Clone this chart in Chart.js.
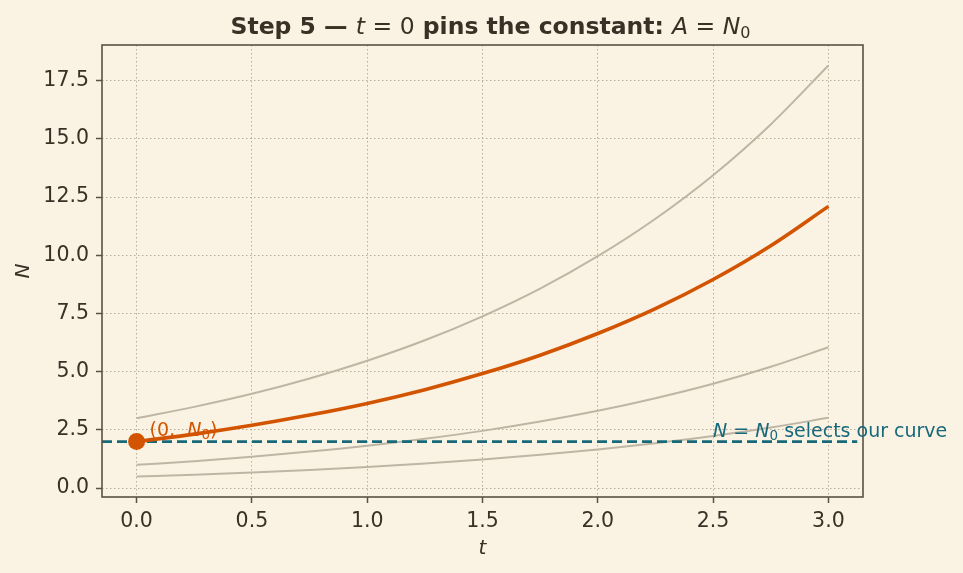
<!DOCTYPE html>
<html>
<head>
<meta charset="utf-8">
<script src="https://cdn.jsdelivr.net/npm/chart.js@4.4.1/dist/chart.umd.min.js"></script>
<style>
  html, body { margin: 0; background: #faf3e4; }
</style>
</head>
<body>
<canvas id="chart" width="963" height="573"></canvas>
<script>
// values
const tValues = [0, 0.25, 0.5, 0.75, 1, 1.25, 1.5, 1.75, 2, 2.25, 2.5, 2.75, 3];
const ourCurve = [2.00, 2.32, 2.70, 3.14, 3.64, 4.23, 4.92, 5.71, 6.64, 7.71, 8.96, 10.41, 12.10];
const otherHigh = [3.00, 3.49, 4.05, 4.71, 5.47, 6.35, 7.38, 8.57, 9.96, 11.57, 13.44, 15.62, 18.15];
const otherMid = [1.00, 1.16, 1.35, 1.57, 1.82, 2.12, 2.46, 2.86, 3.32, 3.86, 4.48, 5.21, 6.05];
const otherLow = [0.50, 0.58, 0.67, 0.78, 0.91, 1.06, 1.23, 1.43, 1.66, 1.93, 2.24, 2.60, 3.02];
const initialPoint = { t: 0, n: 2 };
const n0LineT = [-0.15, 3.125];
const n0Value = 2;
const xTicks = [0, 0.5, 1, 1.5, 2, 2.5, 3];
const yTicks = [0, 2.5, 5, 7.5, 10, 12.5, 15, 17.5];

const FONT = "'DejaVu Sans', sans-serif";
const INK = '#3b3026';
const FRAME = '#5b5045';
const ORANGE = '#d35400';
const TEAL = '#17697a';
const GREY = '#bfb5a5';

const toPoints = (ys) => tValues.map((t, i) => ({ x: t, y: ys[i] }));

// draw text made of runs with different fonts (for the bits of maths)
function drawRich(ctx, parts, x, y, align, color) {
  ctx.save();
  ctx.fillStyle = color;
  ctx.textBaseline = 'alphabetic';
  ctx.textAlign = 'left';
  let total = 0;
  parts.forEach(p => { ctx.font = p.font; total += ctx.measureText(p.text).width; });
  let cx = align === 'center' ? x - total / 2 : x;
  parts.forEach(p => {
    ctx.font = p.font;
    ctx.fillText(p.text, cx, y + (p.dy || 0));
    cx += ctx.measureText(p.text).width;
  });
  ctx.restore();
}

const decorations = {
  id: 'decorations',
  beforeDraw(chart) {
    const { ctx, width, height } = chart;
    ctx.save();
    ctx.fillStyle = '#faf3e4';
    ctx.fillRect(0, 0, width, height);
    ctx.restore();
  },
  afterDraw(chart) {
    const { ctx, chartArea: a, scales: { x, y } } = chart;
    ctx.save();
    ctx.strokeStyle = FRAME;
    ctx.lineWidth = 1.6;
    ctx.strokeRect(a.left, a.top, a.right - a.left, a.bottom - a.top);
    ctx.restore();

    const bold = `bold 23.5px ${FONT}`;
    const reg = `23.5px ${FONT}`;
    const ital = `italic 23.5px ${FONT}`;
    const sub = `16px ${FONT}`;
    drawRich(ctx, [
      { text: 'Step 5 \u2014 ', font: bold },
      { text: 't', font: ital },
      { text: ' = 0', font: reg },
      { text: ' pins the constant: ', font: bold },
      { text: 'A', font: ital },
      { text: ' = ', font: reg },
      { text: 'N', font: ital },
      { text: '0', font: sub, dy: 4 }
    ], (a.left + a.right) / 2 + 8, 34, 'center', INK);

    const r = `19px ${FONT}`;
    const ri = `italic 19px ${FONT}`;
    const rs = `13.5px ${FONT}`;
    drawRich(ctx, [
      { text: '(0,  ', font: r },
      { text: 'N', font: ri },
      { text: '0', font: rs, dy: 3 },
      { text: ')', font: r }
    ], x.getPixelForValue(initialPoint.t) + 13, y.getPixelForValue(initialPoint.n) - 6, 'left', ORANGE);

    drawRich(ctx, [
      { text: 'N', font: ri },
      { text: ' = ', font: r },
      { text: 'N', font: ri },
      { text: '0', font: rs, dy: 3 },
      { text: ' selects our curve', font: r }
    ], x.getPixelForValue(2.5), y.getPixelForValue(n0Value) - 5, 'left', TEAL);
  }
};

new Chart(document.getElementById('chart'), {
  type: 'line',
  data: {
    datasets: [
      { data: toPoints(otherHigh), borderColor: GREY, borderWidth: 2, pointRadius: 0, cubicInterpolationMode: 'monotone', order: 5 },
      { data: toPoints(otherMid), borderColor: GREY, borderWidth: 2, pointRadius: 0, cubicInterpolationMode: 'monotone', order: 5 },
      { data: toPoints(otherLow), borderColor: GREY, borderWidth: 2, pointRadius: 0, cubicInterpolationMode: 'monotone', order: 5 },
      { data: n0LineT.map(t => ({ x: t, y: n0Value })), borderColor: TEAL, borderWidth: 2.6, borderDash: [10, 5], pointRadius: 0, order: 3 },
      { data: toPoints(ourCurve), borderColor: ORANGE, borderWidth: 3.6, pointRadius: 0, cubicInterpolationMode: 'monotone', order: 2 },
      { data: [{ x: initialPoint.t, y: initialPoint.n }], showLine: false, pointRadius: 8.5, pointBackgroundColor: ORANGE, pointBorderColor: ORANGE, pointBorderWidth: 0, order: 1 }
    ]
  },
  options: {
    responsive: false,
    animation: false,
    layout: { padding: { top: 45, right: 100, left: 0, bottom: 0 } },
    plugins: { legend: { display: false }, tooltip: { enabled: false }, title: { display: false } },
    scales: {
      x: {
        type: 'linear',
        min: -0.15,
        max: 3.15,
        afterBuildTicks: (s) => { s.ticks = xTicks.map(v => ({ value: v })); },
        afterFit: (s) => { s.height = 76; },
        ticks: { color: INK, font: { family: FONT, size: 20.5 }, padding: 6, maxRotation: 0, callback: (v) => v.toFixed(1) },
        grid: { color: '#b8ad9d', lineWidth: 1, tickColor: FRAME, tickLength: 6, tickWidth: 1.5 },
        border: { display: false, dash: [1.5, 2.5] },
        title: { display: true, text: 't', color: INK, font: { family: FONT, size: 20, style: 'italic' }, padding: { top: 0, bottom: 12 } }
      },
      y: {
        type: 'linear',
        min: -0.38,
        max: 19.03,
        afterBuildTicks: (s) => { s.ticks = yTicks.map(v => ({ value: v })); },
        afterFit: (s) => { s.width = 102; },
        ticks: { color: INK, font: { family: FONT, size: 20.5 }, padding: 7, callback: (v) => v.toFixed(1) },
        grid: { color: '#b8ad9d', lineWidth: 1, tickColor: FRAME, tickLength: 6, tickWidth: 1.5 },
        border: { display: false, dash: [1.5, 2.5] },
        title: { display: true, text: 'N', color: INK, font: { family: FONT, size: 20, style: 'italic' }, padding: { top: 12, bottom: 0 } }
      }
    }
  },
  plugins: [decorations]
});
</script>
</body>
</html>
